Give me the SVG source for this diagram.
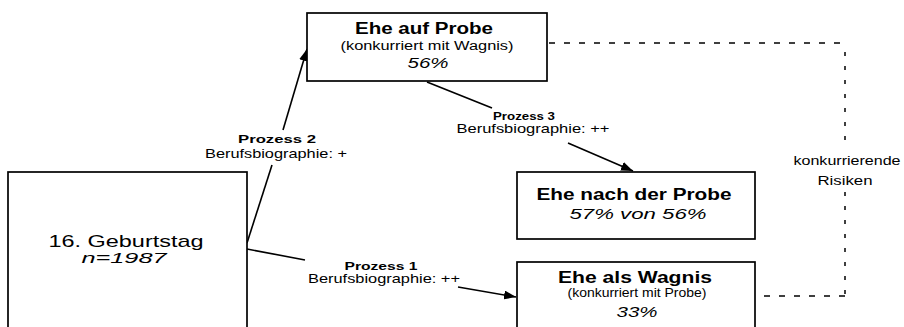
<svg xmlns="http://www.w3.org/2000/svg" width="904" height="327" viewBox="0 0 904 327">
<defs>
<style>
text{font-family:"Liberation Sans",Arial,sans-serif;fill:#000;text-anchor:middle}
.box{fill:#fff;stroke:#000;stroke-width:1.7}
.ttl{font-weight:bold;font-size:16px}
.sub{font-size:12.5px}
.pct{font-style:italic;font-size:15px}
.pl{font-weight:bold;font-size:11px}
.bl{font-size:13px}
.rl{font-size:13px}
.con{stroke:#000;stroke-width:1.6;fill:none}
.dh{stroke:#000;stroke-width:1.5;fill:none;stroke-dasharray:6 9}
.dv{stroke:#000;stroke-width:1.5;fill:none;stroke-dasharray:4 10}
</style>
<marker id="ah" viewBox="0 0 12 9" refX="12" refY="4.5" markerWidth="12" markerHeight="9" markerUnits="userSpaceOnUse" orient="auto">
<path d="M0,0 L12,4.5 L0,9 Z" fill="#000"/>
</marker>
</defs>
<rect width="904" height="327" fill="#fff"/>

<g id="connectors">
<line class="con" x1="247" y1="243" x2="272" y2="165"/>
<line class="con" x1="283" y1="130" x2="307" y2="49" marker-end="url(#ah)"/>
<line class="con" x1="247" y1="249" x2="305" y2="260"/>
<line class="con" x1="458" y1="287" x2="516" y2="297" marker-end="url(#ah)"/>
<line class="con" x1="427" y1="82" x2="492" y2="108"/>
<line class="con" x1="568" y1="143" x2="633" y2="171" marker-end="url(#ah)"/>
<line class="dh" x1="549" y1="43" x2="845" y2="43"/>
<line class="dv" x1="845" y1="52" x2="845" y2="150"/>
<line class="dv" x1="845" y1="192" x2="845" y2="294"/>
<line class="dh" x1="845" y1="296" x2="757" y2="296"/>
<text class="pl" x="277" y="143" textLength="78" lengthAdjust="spacingAndGlyphs">Prozess 2</text>
<text class="bl" x="276" y="158" textLength="142" lengthAdjust="spacingAndGlyphs">Berufsbiographie: +</text>
<text class="pl" x="381" y="270" textLength="73" lengthAdjust="spacingAndGlyphs">Prozess 1</text>
<text class="bl" x="384" y="283" textLength="152" lengthAdjust="spacingAndGlyphs">Berufsbiographie: ++</text>
<text class="pl" x="524" y="120" textLength="62" lengthAdjust="spacingAndGlyphs">Prozess 3</text>
<text class="bl" x="533" y="133" textLength="153" lengthAdjust="spacingAndGlyphs">Berufsbiographie: ++</text>
<text class="rl" x="847" y="165" textLength="107" lengthAdjust="spacingAndGlyphs">konkurrierende</text>
<text class="rl" x="845" y="185" textLength="55" lengthAdjust="spacingAndGlyphs">Risiken</text>
</g>

<g id="geburtstag">
<rect class="box" x="8" y="172" width="239" height="170"/>
<text x="126" y="247" font-size="17" textLength="155" lengthAdjust="spacingAndGlyphs">16. Geburtstag</text>
<text x="124" y="263" font-size="14" font-style="italic" textLength="85" lengthAdjust="spacingAndGlyphs">n=1987</text>
</g>

<g id="ehe-auf-probe">
<rect class="box" x="307" y="13" width="240" height="68"/>
<text class="ttl" x="424" y="34" textLength="138" lengthAdjust="spacingAndGlyphs">Ehe auf Probe</text>
<text class="sub" x="427" y="50" textLength="173" lengthAdjust="spacingAndGlyphs">(konkurriert mit Wagnis)</text>
<text class="pct" x="428" y="68" textLength="41" lengthAdjust="spacingAndGlyphs">56%</text>
</g>

<g id="ehe-nach-der-probe">
<rect class="box" x="517" y="172" width="238" height="67"/>
<text class="ttl" x="634" y="200" textLength="195" lengthAdjust="spacingAndGlyphs">Ehe nach der Probe</text>
<text class="pct" x="638" y="219" textLength="137" lengthAdjust="spacingAndGlyphs">57% von 56%</text>
</g>

<g id="ehe-als-wagnis">
<rect class="box" x="517" y="262" width="238" height="80"/>
<text class="ttl" x="635" y="283" textLength="154" lengthAdjust="spacingAndGlyphs">Ehe als Wagnis</text>
<text class="sub" x="637" y="297" textLength="139" lengthAdjust="spacingAndGlyphs">(konkurriert mit Probe)</text>
<text class="pct" x="637" y="317" textLength="41" lengthAdjust="spacingAndGlyphs">33%</text>
</g>
</svg>
